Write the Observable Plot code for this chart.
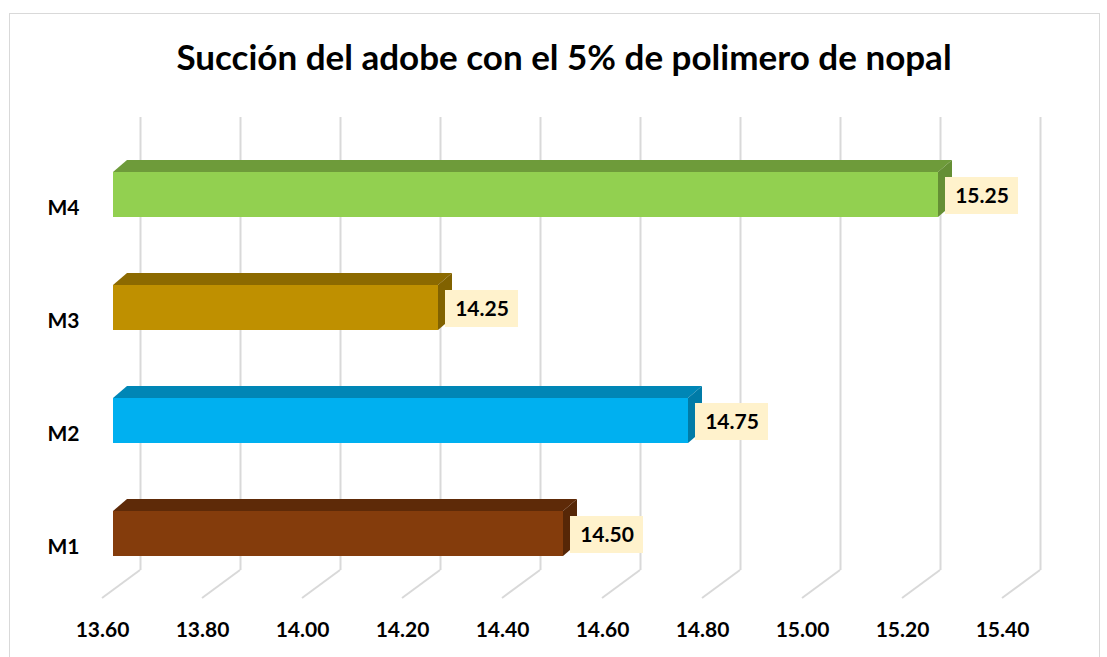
<!DOCTYPE html>
<html><head><meta charset="utf-8">
<script src="https://cdn.jsdelivr.net/npm/d3@7"></script>
<script src="https://cdn.jsdelivr.net/npm/@observablehq/plot@0.6"></script>
<style>body{margin:0;background:#fff;}</style>
</head><body><div id="chart"></div>
<script>
const title = "Succión del adobe con el 5% de polimero de nopal";
const categories = ["M1", "M2", "M3", "M4"];
const values = [14.50, 14.75, 14.25, 15.25];
const tickValues = [13.6, 13.8, 14.0, 14.2, 14.4, 14.6, 14.8, 15.0, 15.2, 15.4];
const tickLabels = ["13.60", "13.80", "14.00", "14.20", "14.40", "14.60", "14.80", "15.00", "15.20", "15.40"];
const frontColors = ["#843C0C", "#00B0F0", "#BF9000", "#92D050"];
const shadeColors = ["#5E2A08", "#0086B6", "#8C6A00", "#6E9B3A"];
const xMin = 13.6;

const rows = categories.map((c, i) => ({cat: c, value: values[i], front: frontColors[i], shade: shadeColors[i]}));

// 3D depth offsets (pixels)
const BAR_DX = 14, BAR_DY = -12, BAR_INSET = 34;
const WALL_DX = 27, FLOOR_BACK = 570, FLOOR_DX = -38, FLOOR_DY = 28;
const GRID = "#d9d9d9";

function floorLines(index, scales) {
  const x = scales.x;
  const g = d3.create("svg:g").attr("stroke", GRID).attr("stroke-width", 2).attr("fill", "none");
  for (const t of tickValues) {
    const bx = x(t) + WALL_DX;
    g.append("path").attr("d", `M${bx},${FLOOR_BACK}L${bx + FLOOR_DX},${FLOOR_BACK + FLOOR_DY}`);
  }
  return g.node();
}

function barFaces(index, scales) {
  const x = scales.x, y = scales.y;
  const bw = y.bandwidth ? y.bandwidth() : 113;
  const g = d3.create("svg:g");
  for (const r of rows) {
    const x0 = x(xMin), x1 = x(r.value);
    const y0 = y(r.cat) + BAR_INSET, y1 = y(r.cat) + bw - BAR_INSET;
    g.append("path").attr("fill", r.shade)
      .attr("d", `M${x0},${y0}L${x1},${y0}L${x1 + BAR_DX},${y0 + BAR_DY}L${x0 + BAR_DX},${y0 + BAR_DY}Z`);
    g.append("path").attr("fill", r.shade).attr("filter", "brightness(0.92)")
      .attr("d", `M${x1},${y0}L${x1 + BAR_DX},${y0 + BAR_DY}L${x1 + BAR_DX},${y1 + BAR_DY}L${x1},${y1}Z`);
  }
  return g.node();
}

const chart = Plot.plot({
  width: 1107,
  height: 657,
  marginTop: 0, marginBottom: 0, marginLeft: 0, marginRight: 0,
  style: {fontFamily: "Lato, 'Open Sans', sans-serif", background: "white", color: "black", overflow: "visible"},
  x: {domain: [13.6, 15.4], range: [113, 1013], axis: null},
  y: {type: "band", domain: ["M4", "M3", "M2", "M1"], range: [138, 590], padding: 0, axis: null},
  color: {type: "identity"},
  marks: [
    Plot.frame({stroke: GRID, insetLeft: 9, insetTop: 13, insetRight: 8, insetBottom: -5}),
    Plot.ruleX(tickValues, {x: d => d, dx: WALL_DX, insetTop: 117, insetBottom: 657 - FLOOR_BACK, stroke: GRID, strokeWidth: 2}),
    floorLines,
    barFaces,
    Plot.barX(rows, {x1: d => xMin, x2: "value", y: "cat", fill: "front", insetTop: BAR_INSET, insetBottom: BAR_INSET}),
    Plot.barX(rows, {x1: "value", x2: "value", y: "cat", fill: "#FFF2CC", insetLeft: 7, insetRight: -80, insetTop: 39, insetBottom: 37}),
    Plot.text(rows, {x: "value", y: "cat", text: d => d.value.toFixed(2), dx: 43.5, dy: 1, fontSize: 21, fontWeight: "bold", fill: "black"}),
    Plot.text(rows, {y: "cat", text: "cat", frameAnchor: "left", dx: 47, dy: 13, textAnchor: "start", fontSize: 21, fontWeight: "bold", fill: "black"}),
    Plot.text(tickValues, {x: d => d, text: (d, i) => tickLabels[i], frameAnchor: "bottom", lineAnchor: "middle", dx: -11, dy: -27, fontSize: 21, fontWeight: "bold", fill: "black"}),
    Plot.text([title], {text: d => d, frameAnchor: "top", lineAnchor: "middle", dx: 10, dy: 58, fontSize: 35, fontWeight: "bold", fill: "black"})
  ]
});
document.getElementById("chart").appendChild(chart);
</script>
</body></html>
